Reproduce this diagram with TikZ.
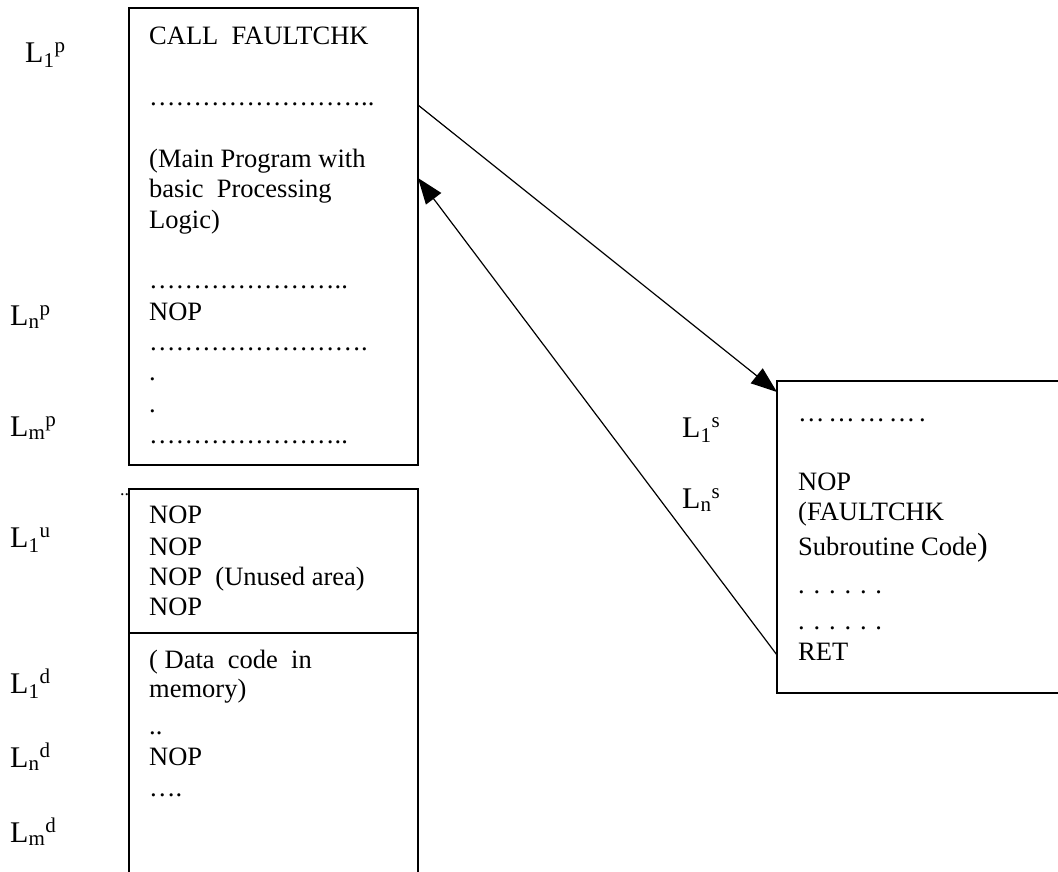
\documentclass[tikz,border=0pt]{standalone}
\usepackage{fontspec}
\setmainfont{Liberation Serif}
\usepackage{tikz}
\usetikzlibrary{positioning,arrows.meta}

\tikzset{
  membox/.style={draw, line width=1.5pt, inner sep=0pt, outer sep=0pt, anchor=north west},
  code/.style={anchor=base west, inner sep=0pt, font=\fontsize{26.5}{30}\selectfont},
  addr/.style={anchor=base west, inner sep=0pt, font=\fontsize{30}{34}\selectfont},
  jump/.style={line width=1.2pt, -{Triangle[length=26pt,width=19pt]}}
}

\begin{document}
\begin{tikzpicture}[x=1pt,y=-1pt]
\useasboundingbox (0,0) rectangle (1058,871);
\clip (0,0) rectangle (1058,871);

\node[membox, minimum width=289pt, minimum height=457pt] (main) at (129,8) {};
\node[membox, minimum width=289pt, minimum height=144pt] (unused) at (129,489) {};
\node[membox, minimum width=289pt, minimum height=260pt] (data) at (129,633) {};
\node[membox, minimum width=300pt, minimum height=312pt] (sub) at (777,381) {};

\node[code] (call) at (149,44) {CALL\ \ FAULTCHK};
\node[code] (mdots1) at (149,105) {……………………..};
\node[code] (main1) at (149,167) {(Main Program with};
\node[code] (main2) at (149,197) {basic\ \ Processing};
\node[code] (main3) at (149,228) {Logic)};
\node[code] (mdots2) at (149,288) {…………………..};
\node[code] (mnop) at (149,320) {NOP};
\node[code] (mdots3) at (149,350) {…………………….};
\node[code] (mdot4) at (149,380) {.};
\node[code] (mdot5) at (149,412) {.};
\node[code] (mdots6) at (149,443) {…………………..};

\node[code, font=\fontsize{18}{20}\selectfont] (stray) at (120,495) {..};

\node[code] (unop1) at (149,523) {NOP};
\node[code] (unop2) at (149,555) {NOP};
\node[code] (unop3) at (149,585) {NOP\ \ (Unused area)};
\node[code] (unop4) at (149,615) {NOP};

\node[code] (data1) at (149,668) {( Data\ \ code\ \ in};
\node[code] (data2) at (149,697) {memory)};
\node[code] (ddots1) at (149,734) {..};
\node[code] (dnop) at (149,765) {NOP};
\node[code] (ddots2) at (149,796) {….};

\node[code] (sdots1) at (798,421) {\addfontfeature{LetterSpace=14}………….};
\node[code] (snop) at (798,490) {NOP};
\node[code] (sub1) at (798,520) {(FAULTCHK};
\node[code] (sub2) at (798,555) {Subroutine Code{\fontsize{32}{34}\selectfont)}};
\node[code] (sdots2) at (798,593) {. . . . . .};
\node[code] (sdots3) at (798,629) {. . . . . .};
\node[code] (ret) at (798,660) {RET};

\node[addr] (l1p) at (25,62) {L\textsubscript{1}\textsuperscript{p}};
\node[addr] (lnp) at (10,325) {L\textsubscript{n}\textsuperscript{p}};
\node[addr] (lmp) at (10,436) {L\textsubscript{m}\textsuperscript{p}};
\node[addr] (l1u) at (10,547) {L\textsubscript{1}\textsuperscript{u}};
\node[addr] (l1d) at (10,693) {L\textsubscript{1}\textsuperscript{d}};
\node[addr] (lnd) at (10,767) {L\textsubscript{n}\textsuperscript{d}};
\node[addr] (lmd) at (10,842) {L\textsubscript{m}\textsuperscript{d}};
\node[addr] (l1s) at (682,437) {L\textsubscript{1}\textsuperscript{s}};
\node[addr] (lns) at (682,508) {L\textsubscript{n}\textsuperscript{s}};

\coordinate (callout) at (418,105);
\coordinate (callin) at (777,392);
\coordinate (retout) at (777,655);
\coordinate (retin) at (418,178);
\draw[jump] (callout) -- (callin);
\draw[jump] (retout) -- (retin);
\end{tikzpicture}
\end{document}
